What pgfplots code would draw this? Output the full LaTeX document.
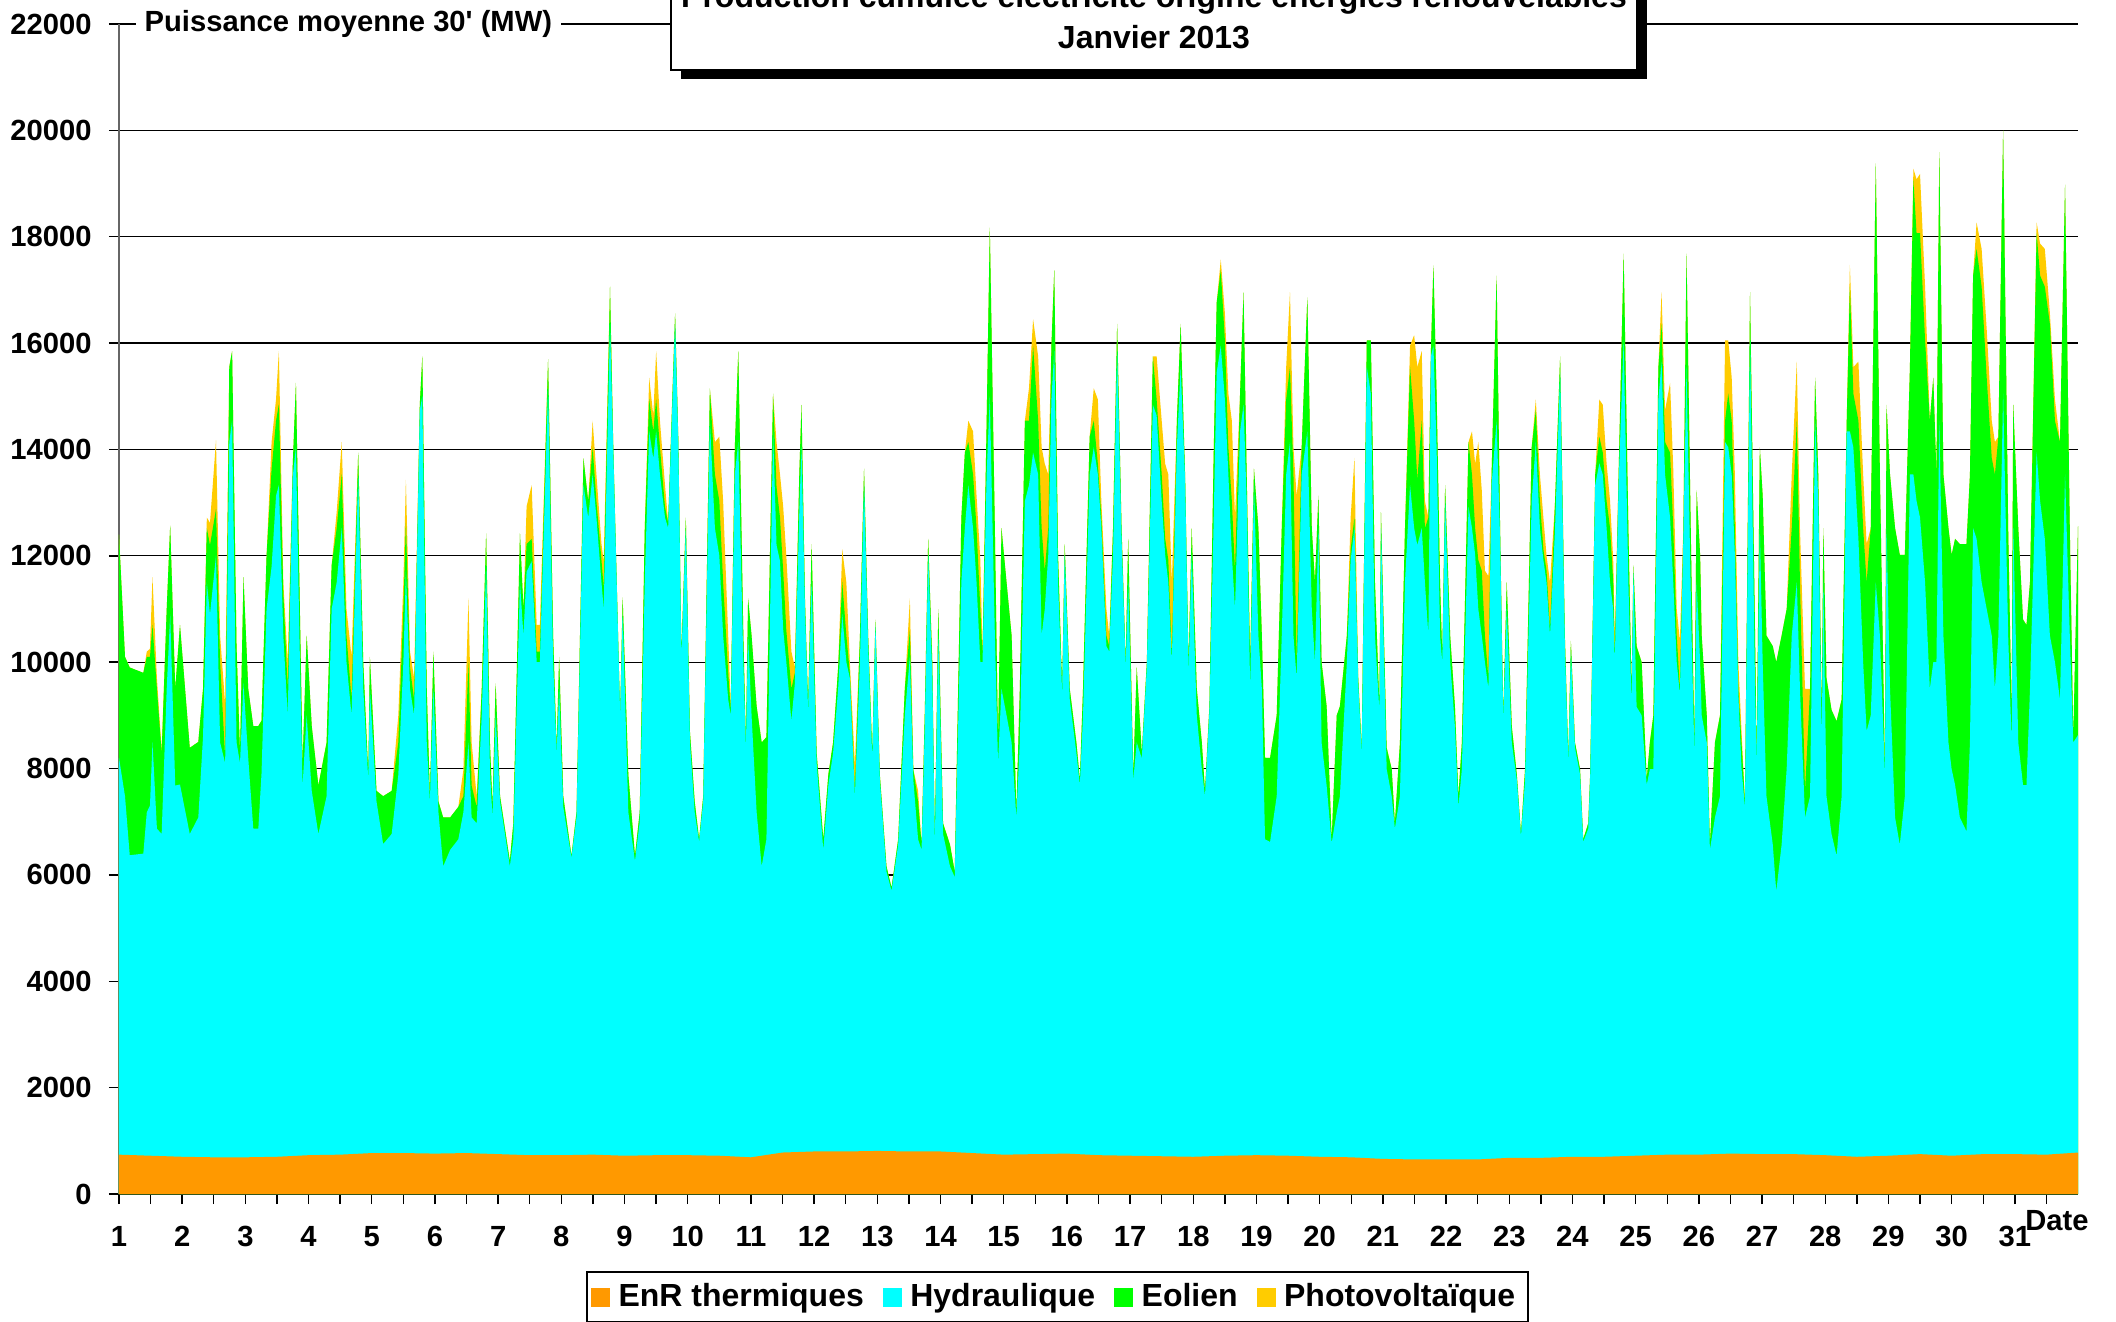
\documentclass[border=0pt]{standalone}
\usepackage{fontspec}
\setmainfont{Liberation Sans}
\usepackage{pgfplots}
\usepackage{pgfplotstable}
\pgfplotsset{compat=1.18}

\definecolor{enrth}{HTML}{FF9900}
\definecolor{hydro}{HTML}{00FFFF}
\definecolor{eol}{HTML}{00FF00}
\definecolor{pv}{HTML}{FFCC00}

\newcommand\af{\fontsize{8.3}{10}\selectfont\bfseries}
\newcommand\tf{\fontsize{9.1}{11}\selectfont\bfseries}

% cumulative levels (MW): C = top of hydro, G = top of wind, Y = top of PV
\pgfplotstableread{
x C G Y
1.00 8200 12400 12400
1.095 7480 10100 10100
1.17 6370 9900 9900
1.385 6400 9800 9800
1.44 7180 10100 10200
1.49 7300 10100 10250
1.53 8490 10700 11600
1.60 6870 9500 9700
1.675 6770 8290 8350
1.755 9500 11000 11000
1.81 10900 12570 12570
1.89 7680 9500 9500
1.965 7700 10700 10700
2.12 6770 8390 8390
2.255 7080 8500 8500
2.33 8600 9500 9500
2.39 11500 12520 12720
2.44 10900 12200 12620
2.535 12000 12880 14170
2.60 8490 10000 10500
2.68 8100 8200 9200
2.745 14140 15550 15550
2.79 14540 15850 15850
2.86 8490 10300 10300
2.915 8100 8290 8290
2.97 9600 11600 11600
3.045 8200 9500 9500
3.125 6870 8800 8800
3.205 6870 8800 8800
3.255 7900 8900 8900
3.335 11000 12000 12000
3.415 11800 13630 14140
3.485 13130 14540 14945
3.53 13330 14850 15850
3.60 10500 11300 11510
3.67 9000 9500 10000
3.75 13500 13730 13730
3.80 14040 15250 15250
3.855 10500 11500 11500
3.905 7680 8100 8100
3.97 9000 10500 10500
4.05 7580 8800 8800
4.155 6770 7680 7680
4.285 7480 8490 8490
4.365 11000 11820 11820
4.445 11500 12520 12830
4.525 12520 13530 14140
4.60 10000 10500 11000
4.68 9000 9300 10100
4.785 13500 13940 13940
4.865 9500 10000 10000
4.945 7780 7890 7890
4.97 9500 10100 10100
5.075 7380 7580 7580
5.18 6580 7480 7480
5.315 6770 7580 7580
5.42 7880 8490 9000
5.50 10000 11000 11500
5.54 11700 12620 13430
5.605 9500 9900 10200
5.67 9000 9300 9700
5.76 14740 14850 14850
5.80 15000 15750 15750
5.87 8490 9500 9500
5.92 7380 7480 7480
5.975 9500 10200 10200
6.055 7180 7380 7380
6.13 6160 7080 7080
6.24 6470 7080 7080
6.37 6670 7280 7280
6.45 7180 7480 7980
6.53 8490 10000 11200
6.58 7080 7680 8490
6.66 6970 7280 7480
6.74 9000 9500 9500
6.81 11800 12420 12420
6.87 7980 8490 8490
6.91 7080 7280 7280
6.96 9000 9600 9600
7.03 7380 7480 7480
7.185 6160 6260 6260
7.24 6670 6970 6970
7.345 11510 12420 12420
7.40 10500 11000 11000
7.45 11700 12220 12930
7.53 11900 12320 13330
7.61 10000 10200 10700
7.66 10000 10200 10700
7.79 15150 15700 15700
7.87 10000 10500 10500
7.925 8290 8390 8390
7.965 9500 10100 10100
8.03 7280 7480 7480
8.16 6320 6360 6360
8.24 7080 7180 7180
8.35 13330 13830 13830
8.425 12720 13030 13030
8.495 13530 14040 14540
8.555 12720 13030 13530
8.635 11500 11920 12220
8.67 11000 11400 11900
8.77 16360 17060 17060
8.82 14040 14140 14140
8.93 9000 9000 9000
8.97 10900 11220 11220
9.06 7180 7880 7880
9.165 6260 6360 6360
9.24 7000 7180 7180
9.32 11510 12520 12520
9.39 14340 14950 15350
9.455 13830 14340 14640
9.50 14340 14950 15850
9.56 13530 14040 14540
9.64 12720 12920 13330
9.69 12520 12620 12630
9.80 16360 16560 16560
9.85 14140 14240 14240
9.90 10100 10200 10200
9.97 12520 12720 12720
10.035 8490 8690 8690
10.11 7180 7380 7380
10.18 6620 6670 6670
10.245 7380 7480 7480
10.35 14540 15150 15150
10.43 12520 13530 14140
10.50 12000 13030 14240
10.56 10500 11500 13030
10.64 9300 9800 10500
10.68 9000 9100 9170
10.745 13530 14040 14040
10.80 14140 15850 15850
10.88 10000 10500 10500
10.92 8390 8490 8490
10.955 10500 11200 11200
11.01 9000 10500 10500
11.09 7180 9170 9170
11.17 6160 8490 8490
11.245 6670 8590 8590
11.35 14340 15050 15050
11.405 12200 13300 14140
11.46 11900 12720 13530
11.51 10620 11720 12930
11.56 10000 10600 12000
11.64 8900 9500 10200
11.695 9600 9800 9900
11.765 12820 13530 13530
11.80 14040 14840 14840
11.855 11000 11200 11200
11.905 9070 9170 9170
11.96 11510 12220 12220
12.04 8100 8290 8290
12.145 6470 6670 6670
12.225 7690 7890 7890
12.30 8290 8490 8490
12.38 9500 9900 9900
12.445 10900 11510 12120
12.51 10000 10500 11500
12.565 9700 9800 10000
12.645 7480 7580 8080
12.725 10000 10500 10500
12.79 13330 13640 13640
12.855 10300 10500 10500
12.92 8190 8290 8290
12.97 10700 10800 10800
13.04 7780 7880 7880
13.145 6060 6160 6160
13.225 5700 5760 5760
13.33 6570 6670 6670
13.435 9000 9500 9500
13.515 10100 10600 11200
13.57 7780 7980 7980
13.645 6670 7380 7580
13.70 6470 6570 6570
13.75 8700 9000 9000
13.805 12020 12320 12320
13.87 9700 10000 10000
13.91 6570 6670 6670
13.965 10500 11000 11000
14.04 6770 6970 6970
14.15 6160 6570 6570
14.225 5960 6060 6060
14.33 11510 12720 12720
14.385 12520 13940 13940
14.44 13330 14140 14540
14.515 12520 13530 14340
14.57 11500 12520 13130
14.63 10000 11000 11920
14.665 10000 10100 10200
14.73 13530 14540 14540
14.78 15000 18170 18170
14.86 10500 12520 12520
14.91 8100 8490 8490
14.965 9500 12520 12520
15.045 9000 11500 11500
15.125 8490 10500 10500
15.20 7080 7180 7180
15.255 8490 9500 9500
15.335 13030 14540 14540
15.40 13330 14540 15150
15.465 13940 15950 16450
15.545 13530 14540 15750
15.60 10500 12520 14040
15.65 11000 11720 13730
15.705 12020 12520 13530
15.755 14940 15950 15950
15.80 15850 17370 17370
15.86 11500 12010 12010
15.925 9400 9500 9500
15.965 12020 12220 12220
16.045 9300 9500 9500
16.15 8290 8490 8490
16.205 7690 7790 7790
16.255 9000 9500 9500
16.36 13530 14240 14240
16.425 14040 14540 15150
16.49 13530 13730 14940
16.545 12520 12720 13030
16.625 10300 10500 11000
16.67 10200 10300 10500
16.73 12020 12520 12520
16.795 15850 16360 16360
16.865 12320 12520 12520
16.93 9900 10000 10000
16.97 11510 12320 12320
17.05 7780 7880 7880
17.105 8490 9900 9900
17.185 8190 8290 8290
17.265 9900 10000 10000
17.36 14840 15750 15750
17.42 14640 14940 15750
17.50 13030 13530 14540
17.555 12020 12320 13730
17.605 11500 11920 13530
17.66 10000 10100 11500
17.74 14040 14540 14540
17.80 15550 16360 16360
17.87 13430 13530 13530
17.925 9800 10000 10000
17.975 12020 12520 12520
18.055 9000 9500 9500
18.135 7990 8490 8490
18.185 7480 7580 7580
18.255 9070 9170 9170
18.32 12520 13750 13750
18.37 15450 16760 16760
18.435 15950 17370 17570
18.50 14940 16050 16560
18.555 13530 14040 15050
18.61 12020 13030 14540
18.66 11000 11720 12720
18.74 14340 15050 15050
18.795 14840 16960 16960
18.845 13030 13530 13530
18.90 9500 10000 10000
18.96 13330 13640 13640
19.03 10500 12520 12520
19.085 9500 10500 10500
19.135 6670 8200 8200
19.215 6620 8200 8200
19.32 7480 9000 9000
19.40 10500 12520 12520
19.47 13530 14940 15550
19.53 14140 15550 16960
19.585 10500 13530 14040
19.635 9700 10000 13130
19.715 13530 14040 14040
19.805 14340 16860 16860
19.875 11000 12520 12520
19.925 10000 11500 11500
19.98 12520 13130 13130
20.03 8490 10000 10000
20.11 7680 9170 9170
20.19 6600 6670 6670
20.27 7180 9000 9000
20.32 7480 9170 9170
20.43 10000 10500 10500
20.49 11920 12120 12720
20.55 12520 12720 13840
20.61 9600 9700 9720
20.665 8290 8390 8390
20.745 15550 16050 16050
20.81 15050 16050 16050
20.875 10500 11500 11500
20.945 9070 9170 9170
20.97 12520 12820 12820
21.06 7990 8390 8390
21.14 7480 7990 7990
21.19 6870 6970 6970
21.27 7480 8490 8490
21.35 11510 12520 12520
21.43 13330 15550 15950
21.495 12520 14540 16150
21.545 12200 13430 15550
21.615 12520 14540 15850
21.665 11510 12520 13030
21.72 10500 12720 12720
21.76 15750 15850 15850
21.80 15950 17460 17460
21.85 14040 15050 15050
21.905 10500 11500 11500
21.94 10000 10100 10100
21.985 13030 13330 13330
22.065 10000 10500 10500
22.14 8790 9170 9170
22.195 7280 7480 7480
22.25 7990 8490 8490
22.355 12920 14140 14140
22.41 12520 13530 14340
22.46 12020 12520 13730
22.51 11000 11920 14140
22.565 10500 11720 13230
22.615 10000 10500 11720
22.67 9500 9700 11620
22.72 13330 13530 13530
22.80 14540 17270 17270
22.855 12320 12520 12520
22.905 8900 9000 9000
22.96 11000 11500 11500
23.04 8490 8790 8790
23.12 7780 7880 7880
23.185 6720 6770 6770
23.25 7780 7990 7990
23.355 13030 14040 14040
23.42 14140 14740 14940
23.485 12520 13030 13530
23.54 11920 12120 12720
23.59 11500 11720 12000
23.645 10500 10620 11500
23.725 12520 13030 13030
23.805 15450 15750 15750
23.88 10300 10500 10500
23.935 8100 8200 8200
23.975 10200 10400 10400
24.04 8390 8490 8490
24.12 7890 7990 7990
24.17 6620 6670 6670
24.25 6870 6970 6970
24.28 7790 7890 7890
24.36 13330 13530 13530
24.425 13740 14240 14940
24.48 13530 13940 14840
24.54 12520 13030 13740
24.595 11500 12520 13030
24.645 11000 11510 11920
24.67 10000 10100 10500
24.73 13330 13530 13530
24.81 16060 17680 17680
24.885 11500 12520 12520
24.935 9200 9500 9500
24.965 11700 11820 11820
25.015 9160 10300 10300
25.095 9000 10000 10000
25.175 7690 7790 7790
25.225 7990 8490 8490
25.28 7990 9000 9000
25.36 14940 15550 15550
25.41 15650 16360 16960
25.465 13530 14140 14740
25.545 12720 13940 15250
25.595 11500 12520 13640
25.65 10000 10500 11000
25.70 9400 9500 10400
25.755 12320 12520 12520
25.805 15550 17680 17680
25.885 10500 11500 11500
25.93 8290 8490 8490
25.965 11500 13230 13230
26.02 10000 12020 12020
26.045 9000 10500 10500
26.125 8490 9000 9000
26.175 6470 6560 6560
26.255 7080 8490 8490
26.335 7480 9000 9000
26.415 14140 14540 16050
26.465 14040 15050 16050
26.52 13530 14540 15350
26.57 12020 12520 13530
26.625 9400 9500 10000
26.675 8000 8490 8710
26.73 7280 7380 7380
26.81 16050 16960 16960
26.89 9500 10500 10500
26.915 8100 8200 8200
26.965 12520 14040 14040
27.01 10000 13130 13130
27.07 7480 10500 10500
27.17 6570 10300 10300
27.225 5690 10000 10000
27.31 6570 10500 10500
27.39 8000 11000 11000
27.47 10500 12520 13530
27.55 11500 14540 15650
27.60 9500 11500 12520
27.68 7080 7580 9500
27.76 7480 9500 9500
27.84 14540 15350 15350
27.89 13030 13530 13530
27.945 8490 9000 9000
27.97 11500 12520 12520
28.02 7480 9700 9700
28.10 6770 9100 9100
28.18 6360 8890 8890
28.26 7480 9300 9300
28.34 14340 14540 14540
28.39 14340 17060 17470
28.445 14040 15050 15550
28.525 12320 14540 15650
28.60 10000 12520 13530
28.655 8700 11500 12220
28.72 9000 12520 12520
28.80 11500 19380 19380
28.865 10500 13530 13530
28.945 7890 7990 7990
28.97 12520 14840 14840
29.025 9500 13530 13530
29.105 7080 12520 12520
29.18 6570 12020 12020
29.26 7480 12020 12020
29.34 13530 15550 15550
29.395 13530 19080 19280
29.445 13030 18070 19080
29.50 12720 18070 19180
29.58 11500 16050 17060
29.655 9500 14540 14540
29.71 10000 15350 15350
29.76 10000 13530 13530
29.805 14540 19590 19590
29.87 10500 13530 13530
29.95 8490 12520 12520
30.00 7990 12020 12020
30.055 7690 12320 12320
30.13 7080 12220 12220
30.235 6820 12220 12220
30.29 8490 13530 13530
30.34 12520 17270 17270
30.395 12320 17770 18270
30.475 11500 17060 17770
30.555 11000 15350 16260
30.635 10500 13840 14540
30.685 9500 13530 14140
30.74 10500 14240 14240
30.815 15050 20000 20000
30.895 10500 12520 12520
30.95 8490 9000 9000
30.975 12520 14840 14840
31.055 8490 12520 12520
31.13 7690 10800 10800
31.185 7690 10700 10700
31.24 9500 11500 11500
31.345 13950 18070 18270
31.40 13030 17270 17870
31.475 12320 17060 17770
31.555 10500 16360 16560
31.635 10000 14540 14940
31.715 9300 14140 14140
31.795 13530 18980 18980
31.87 10500 12520 12520
31.925 8490 8590 8590
32.00 8630 12560 12560
}\cumul

\pgfplotstableread{
x T
1 740
1.5 720
2 700
2.5 690
3 690
3.5 700
4 730
4.5 740
5 770
5.5 770
6 760
6.5 770
7 750
7.5 730
8 730
8.5 740
9 720
9.5 730
10 730
10.5 720
11 690
11.5 780
12 800
12.5 800
13 810
13.5 800
14 800
14.5 770
15 740
15.5 750
16 760
16.5 730
17 720
17.5 710
18 700
18.5 720
19 730
19.5 720
20 700
20.5 690
21 660
21.5 650
22 650
22.5 650
23 680
23.5 680
24 700
24.5 700
25 720
25.5 740
26 740
26.5 760
27 750
27.5 750
28 730
28.5 700
29 720
29.5 750
30 720
30.5 750
31 750
31.5 740
32 780
}\therm

\begin{document}
\begin{tikzpicture}
\begin{axis}[
  at={(0,0)}, anchor=south west,
  scale only axis, width=19.59cm, height=11.70cm,
  xmin=1, xmax=32, ymin=0, ymax=22000,
  axis x line*=bottom, axis y line*=left,
  axis line style={-},
  x axis line style={black, line width=0.5pt},
  y axis line style={black!60, line width=0.8pt},
  xtick={1,...,31}, minor xtick={1.5,2.5,...,31.5},
  ytick={0,2000,...,22000},
  tick align=outside,
  major tick length=0.1cm, minor tick length=0.1cm,
  every tick/.style={black, line width=0.4pt},
  ymajorgrids, grid style={black, line width=0.35pt},
  ticklabel style={font=\af},
  yticklabel style={xshift=-0.05cm},
  xticklabel style={yshift=-0.1cm},
  /pgf/number format/assume math mode=true,
  /pgf/number format/1000 sep={},
  scaled y ticks=false,
  reverse legend,
  legend columns=-1,
  legend style={at={(axis description cs:0.479,-0.0658)}, anchor=north,
    draw=black, line width=0.5pt, font=\tf,
    inner xsep=0.04cm, inner ysep=0.06cm,
    nodes={inner xsep=0.085cm, inner ysep=0.05cm},
    /tikz/every even column/.append style={column sep=0.105cm}},
  legend image code/.code={\fill[#1] (0cm,-0.095cm) rectangle (0.19cm,0.095cm);},
]
\addplot[fill=pv, draw=none] table[x=x, y=Y]{\cumul} \closedcycle;
\addlegendentry{Photovoltaïque}
\addplot[fill=eol, draw=none] table[x=x, y=G]{\cumul} \closedcycle;
\addlegendentry{Eolien}
\addplot[fill=hydro, draw=none] table[x=x, y=C]{\cumul} \closedcycle;
\addlegendentry{Hydraulique}
\addplot[fill=enrth, draw=none] table[x=x, y=T]{\therm} \closedcycle;
\addlegendentry{EnR thermiques}
\end{axis}

% unit label on the top gridline
\node[fill=white, anchor=west, inner xsep=0.09cm, inner ysep=0.03cm, font=\af]
  at (0.16,11.70) {Puissance moyenne 30\textquotesingle\ (MW)};

% title box with shadow
\fill[black] (5.62,11.15) rectangle (15.28,13);
\filldraw[fill=white, draw=black, line width=0.6pt] (5.52,11.24) rectangle (15.18,13);
\node[anchor=base, font=\tf] at (10.35,11.86) {Production cumulée électricité origine énergies renouvelables};
\node[anchor=base, font=\tf] at (10.35,11.455) {Janvier 2013};

\node[font=\af] at (19.38,-0.27) {Date};

\pgfresetboundingbox
\path[use as bounding box] (-1.19,-1.27) rectangle (19.97,11.94);
\end{tikzpicture}
\end{document}
